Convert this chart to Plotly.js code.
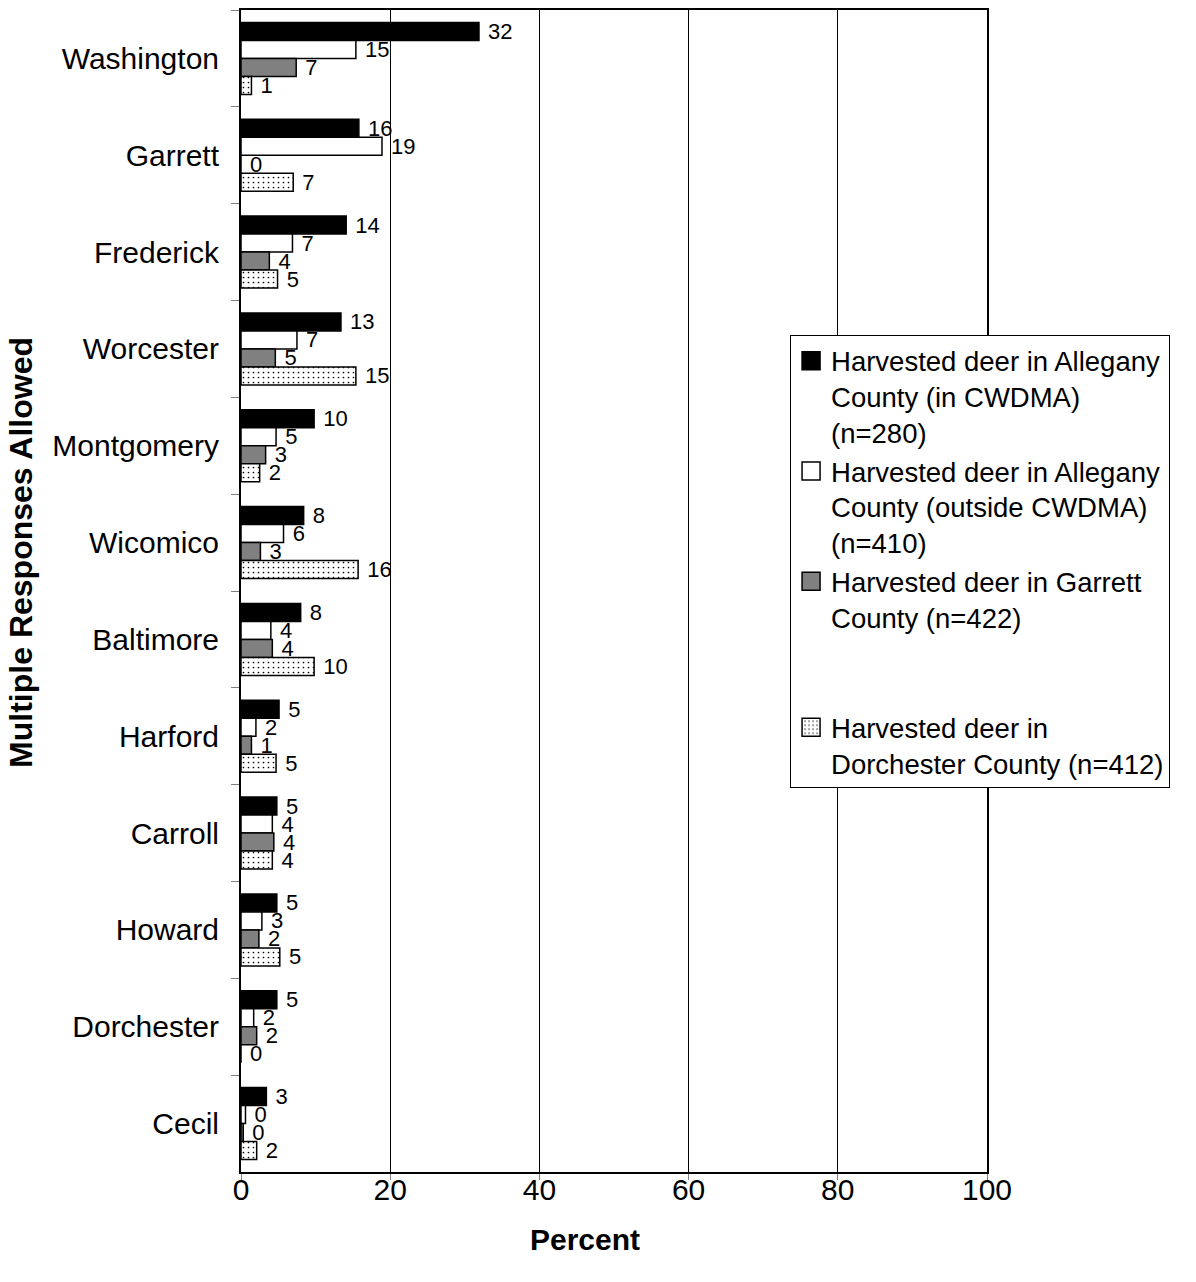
<!DOCTYPE html>
<html>
<head>
<meta charset="utf-8">
<script src="https://cdn.plot.ly/plotly-3.0.1.min.js"></script>
<style>
  html, body { margin: 0; padding: 0; background: #fff; }
  #chart { width: 1196px; height: 1282px; }
</style>
</head>
<body>
<div id="chart"></div>
<script>
const counties = ["Washington", "Garrett", "Frederick", "Worcester", "Montgomery", "Wicomico",
                  "Baltimore", "Harford", "Carroll", "Howard", "Dorchester", "Cecil"];

const seriesNames = [
  "Harvested deer in Allegany<br>County (in CWDMA)<br>(n=280)",
  "Harvested deer in Allegany<br>County (outside CWDMA)<br>(n=410)",
  "Harvested deer in Garrett<br>County (n=422)<br> <br> ",
  "Harvested deer in<br>Dorchester County (n=412)"
];

// bar lengths (percent)
const alleganyIn      = [31.9, 15.8, 14.1, 13.4, 9.8, 8.4, 8.0, 5.1, 4.8, 4.8, 4.8, 3.4];
const alleganyOut     = [15.4, 18.9, 6.9, 7.5, 4.7, 5.7, 4.0, 2.0, 4.2, 2.8, 1.7, 0.6];
const garrett         = [7.4, 0.0, 3.8, 4.6, 3.3, 2.6, 4.2, 1.4, 4.4, 2.4, 2.1, 0.3];
const dorchester      = [1.4, 7.0, 4.9, 15.4, 2.5, 15.7, 9.8, 4.7, 4.2, 5.2, 0.0, 2.1];

// printed data labels
const alleganyInLbl   = ["32", "16", "14", "13", "10", "8", "8", "5", "5", "5", "5", "3"];
const alleganyOutLbl  = ["15", "19", "7", "7", "5", "6", "4", "2", "4", "3", "2", "0"];
const garrettLbl      = ["7", "0", "4", "5", "3", "3", "4", "1", "4", "2", "2", "0"];
const dorchesterLbl   = ["1", "7", "5", "15", "2", "16", "10", "5", "4", "5", "0", "2"];

const xTicks = [0, 20, 40, 60, 80, 100];

const xTitle = "Percent";
const yTitle = "Multiple Responses Allowed";

const FONT = "Arial, 'Liberation Sans', sans-serif";

function barTrace(name, vals, lbls, marker) {
  return {
    type: "bar",
    orientation: "h",
    name: name,
    y: counties,
    x: vals,
    text: lbls,
    texttemplate: "\u00a0%{text}",
    textposition: "outside",
    constraintext: "none",
    cliponaxis: false,
    textfont: { family: FONT, size: 22, color: "#000" },
    marker: marker,
    hoverinfo: "skip"
  };
}

const line = { color: "#000", width: 1.5 };

const data = [
  barTrace(seriesNames[0], alleganyIn, alleganyInLbl, { color: "#000000", line: line }),
  barTrace(seriesNames[1], alleganyOut, alleganyOutLbl, { color: "#ffffff", line: line }),
  barTrace(seriesNames[2], garrett, garrettLbl, { color: "#808080", line: line }),
  barTrace(seriesNames[3], dorchester, dorchesterLbl, {
    color: "#ffffff", line: line,
    pattern: { shape: ".", fgcolor: "#000000", bgcolor: "#ffffff", size: 5, solidity: 0.09 }
  })
];

const layout = {
  width: 1196,
  height: 1282,
  margin: { l: 241, r: 209, t: 10, b: 110, pad: 0 },
  paper_bgcolor: "#ffffff",
  plot_bgcolor: "#ffffff",
  font: { family: FONT, color: "#000" },
  barmode: "group",
  bargap: 0.256,
  bargroupgap: 0,
  showlegend: true,
  hovermode: false,
  xaxis: {
    range: [0, 100],
    tickvals: xTicks,
    ticktext: xTicks.map(String),
    showgrid: true,
    gridcolor: "#000",
    gridwidth: 1,
    zeroline: false,
    showline: true,
    linecolor: "#000",
    linewidth: 2,
    mirror: true,
    ticks: "outside",
    ticklen: 6,
    tickcolor: "#808080",
    ticklabelstandoff: -16,
    tickfont: { family: FONT, size: 30, color: "#000" },
    fixedrange: true
  },
  yaxis: {
    type: "category",
    autorange: "reversed",
    showgrid: false,
    zeroline: false,
    showline: true,
    linecolor: "#000",
    linewidth: 2,
    mirror: true,
    ticks: "outside",
    tickson: "boundaries",
    ticklen: 8,
    tickcolor: "#808080",
    ticklabelstandoff: 14,
    tickfont: { family: FONT, size: 30, color: "#000" },
    fixedrange: true
  },
  annotations: [
    {
      text: "<b>" + xTitle + "</b>",
      xref: "paper", yref: "paper",
      x: 0.461, y: -0.0585,
      xanchor: "center", yanchor: "middle",
      showarrow: false,
      font: { family: FONT, size: 30, color: "#000" }
    },
    {
      text: "<b>" + yTitle + "</b>",
      xref: "paper", yref: "paper",
      x: -0.295, y: 0.5336,
      xanchor: "center", yanchor: "middle",
      textangle: -90,
      showarrow: false,
      font: { family: FONT, size: 32, color: "#000" }
    }
  ],
  legend: {
    x: 0.736,
    y: 0.72,
    xanchor: "left",
    yanchor: "top",
    bgcolor: "#ffffff",
    bordercolor: "#000",
    borderwidth: 1,
    font: { family: FONT, size: 27.5, color: "#000" },
    valign: "top",
    itemwidth: 30,
    tracegroupgap: 2,
    traceorder: "normal"
  }
};

Plotly.newPlot("chart", data, layout, { displayModeBar: false, staticPlot: true }).then(function (gd) {
  // enlarge the legend swatches to match the reference's bigger squares
  gd.querySelectorAll(".legend .legendpoints path").forEach(function (p) {
    p.setAttribute("d", "M9,9H-9V-9H9Z");
  });
});
</script>
</body>
</html>
